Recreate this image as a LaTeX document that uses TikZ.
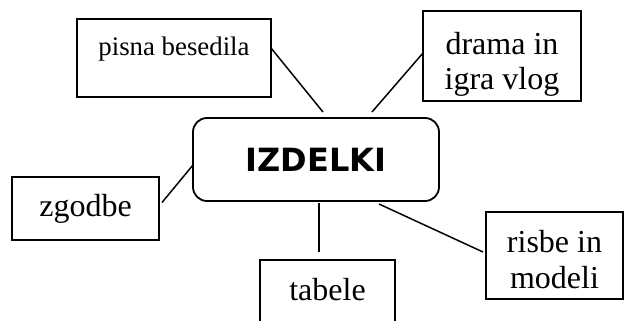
\documentclass[tikz,border=0pt]{standalone}
\usepackage{fontspec}
\setmainfont{Liberation Serif}
\newfontfamily\hubfont{DejaVu Sans}
\usepackage{tikz}

\tikzset{
  box/.style={draw,line width=1pt,inner sep=0pt,outer sep=0pt,align=center,
    font=\fontsize{16pt}{17.5pt}\selectfont},
  hub/.style={draw,line width=0.9pt,rounded corners=7pt,inner sep=0pt,outer sep=0pt,
    font=\hubfont\bfseries\fontsize{16pt}{18pt}\selectfont},
  link/.style={line width=0.75pt}
}

\begin{document}
\begin{tikzpicture}[x=0.5pt,y=-0.5pt]
  \clip (0,0) rectangle (634,321);
  % middle
  \node[hub,minimum width=123pt,minimum height=41.5pt](izdelki) at (316,159.5) {IZDELKI};
  % around it
  \node[box,minimum width=97pt,minimum height=39pt,font=\fontsize{13.4pt}{16pt}\selectfont,
    text height=9.2pt,text depth=11.5pt](pisna) at (174,58) {pisna besedila};
  \node[box,minimum width=79pt,minimum height=45pt,text height=38pt,text depth=4pt](drama) at (502,56) {drama in\\igra vlog};
  \node[box,minimum width=73.5pt,minimum height=31.5pt](zgodbe) at (85.5,208.5) {zgodbe};
  \node[box,minimum width=67.5pt,minimum height=35pt,text height=11pt,text depth=6pt](tabele) at (327.5,295) {tabele};
  \node[box,minimum width=68.5pt,minimum height=43.5pt,text height=36.5pt,text depth=4pt](risbe) at (554.5,255.5) {risbe in\\modeli};
  \draw[link] ([yshift=5pt]pisna.east) -- ([xshift=3.5pt,yshift=3pt]izdelki.north);
  \draw[link] ([yshift=1.5pt]drama.west) -- ([xshift=28pt,yshift=3pt]izdelki.north);
  \draw[link] ([xshift=1.5pt,yshift=3pt]zgodbe.east) -- ([yshift=-2.75pt]izdelki.west);
  \draw[link] ([xshift=1.5pt,yshift=-1pt]izdelki.south) -- ([xshift=-4.25pt,yshift=4pt]tabele.north);
  \draw[link] ([xshift=31.5pt,yshift=-1.5pt]izdelki.south) -- ([xshift=-1.5pt,yshift=1.75pt]risbe.west);
\end{tikzpicture}
\end{document}
